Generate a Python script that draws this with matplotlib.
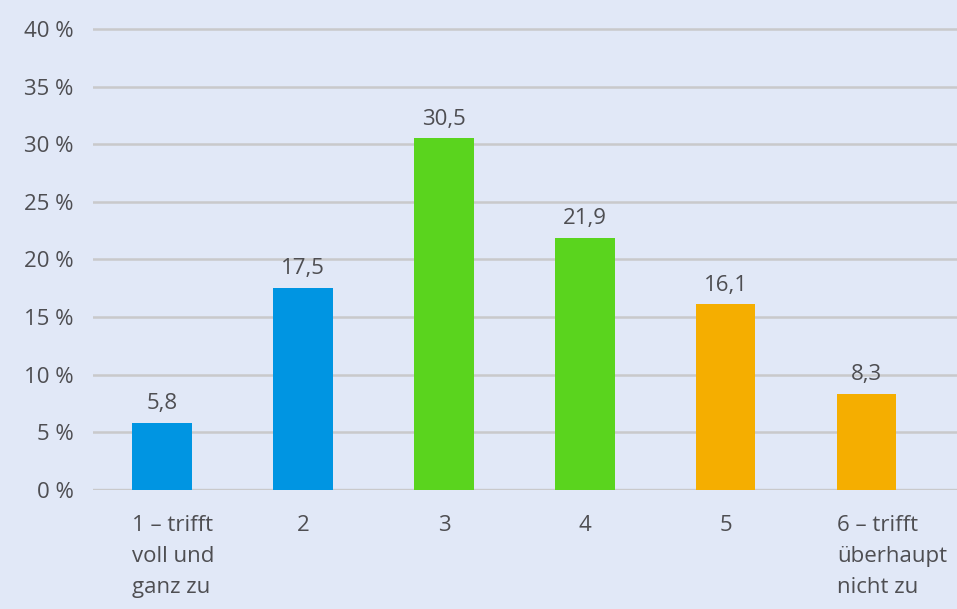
import matplotlib
matplotlib.use("Agg")
import matplotlib.pyplot as plt
from matplotlib.transforms import blended_transform_factory

# Response distribution on a six-point agreement scale
categories = ["1 – trifft\nvoll und\nganz zu", "2", "3", "4", "5",
              "6 – trifft\nüberhaupt\nnicht zu"]
shares = [5.8, 17.5, 30.5, 21.9, 16.1, 8.3]
value_labels = ["5,8", "17,5", "30,5", "21,9", "16,1", "8,3"]
bar_colors = ["#0095e2", "#0095e2", "#5ad41e", "#5ad41e", "#f5ae00", "#f5ae00"]
y_ticks = [0, 5, 10, 15, 20, 25, 30, 35, 40]

BG = "#e1e8f7"
TEXT = "#4e4e52"
GRID = "#c9c9cb"
FS = 16

plt.rcParams["font.family"] = ["Open Sans", "DejaVu Sans"]

fig = plt.figure(figsize=(9.57, 6.09), dpi=100, facecolor=BG)
# axes placed so 0 % sits at y=490 px and 40 % at y=29 px
unit = (0.9524 - 0.1954) / 40
ax = fig.add_axes([93 / 957, 0.1954, 1 - 93 / 957, unit * 41])
ax.set_facecolor(BG)

x = list(range(len(shares)))
width = 0.42
ax.bar(x, shares, width=width, color=bar_colors, zorder=3)

for xi, v, lab in zip(x, shares, value_labels):
    ax.annotate(lab, (xi, v), xytext=(0, 10), textcoords="offset points",
                ha="center", va="baseline", fontsize=FS, color=TEXT, zorder=4)

ax.set_xlim(-0.49, 5.64)
ax.set_ylim(0, 41)

for t in y_ticks:
    ax.axhline(t, color=GRID, lw=2.4 if t == 0 else 1.8, zorder=1)

ax.set_yticks(y_ticks)
ax.set_yticklabels([f"{t} %" for t in y_ticks], fontsize=FS, color=TEXT)
ax.tick_params(axis="y", length=0, pad=14)
ax.set_xticks([])

# category labels below the baseline; long ones start at the bar's left edge
trans = blended_transform_factory(ax.transData, ax.transAxes)
for xi, cat in zip(x, categories):
    if "\n" in cat:
        ax.text(xi - width / 2, -0.053, cat, transform=trans, ha="left",
                va="top", fontsize=FS, color=TEXT, linespacing=1.62)
    else:
        ax.text(xi, -0.053, cat, transform=trans, ha="center", va="top",
                fontsize=FS, color=TEXT)

for s in ax.spines.values():
    s.set_visible(False)

fig.savefig("out.png", dpi=100, facecolor=BG)
